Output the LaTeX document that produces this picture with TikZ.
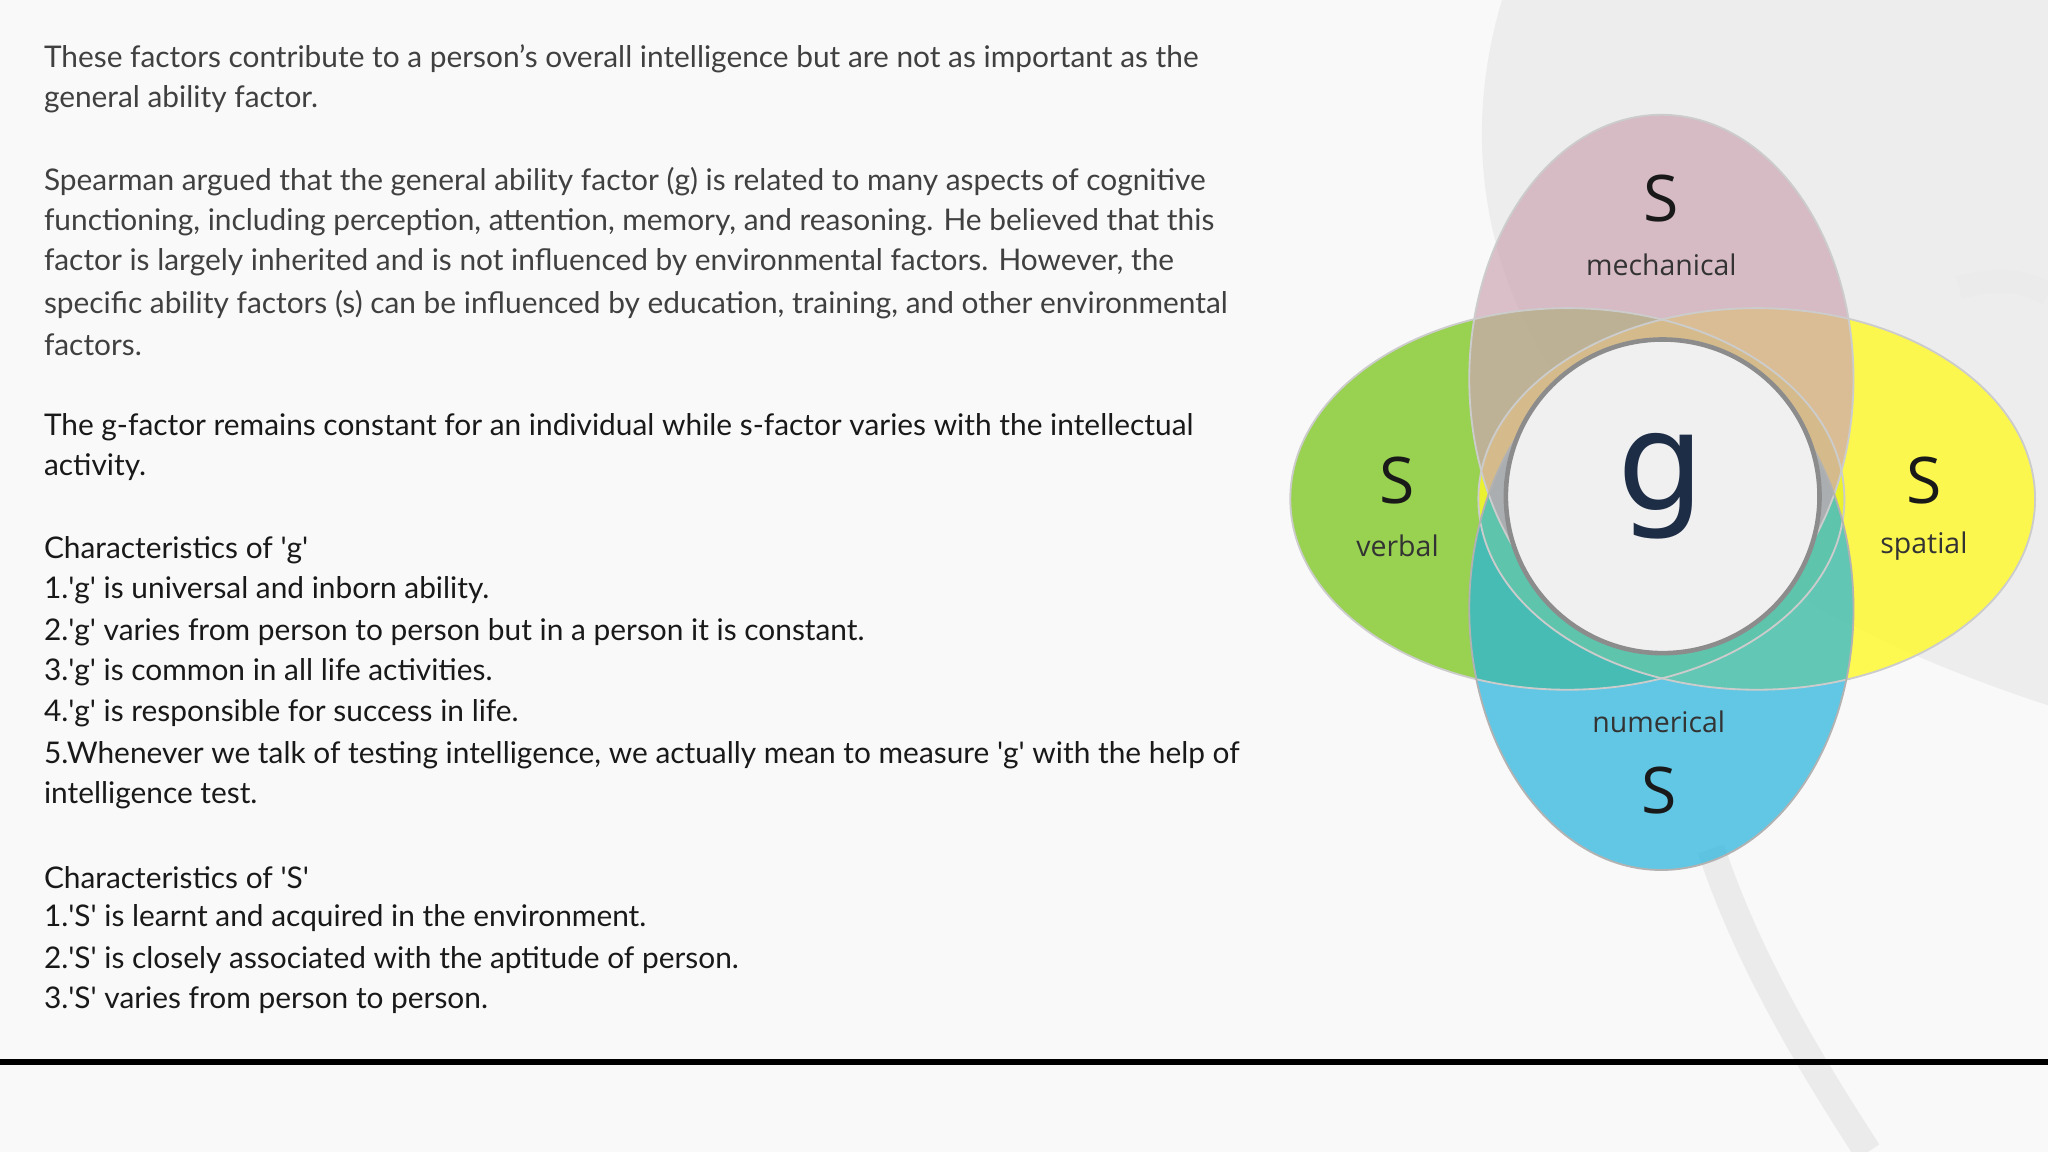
\documentclass[tikz,border=0pt]{standalone}
\usepackage{fontspec}
\setmainfont{Lato}
\newfontfamily\dfont{Open Sans}
\newfontfamily\gfont{DejaVu Sans}
\newcommand{\q}{\textquotesingle}
\begin{document}
\begin{tikzpicture}[x=0.01cm,y=-0.01cm,
  txt/.style={anchor=west,inner sep=0pt,font=\fontsize{6.5pt}{7pt}\selectfont,text=black!75},
  hd/.style={txt,text=black!90},
  ell/.style={fill opacity=0.8},
  slab/.style={font=\dfont\fontsize{14pt}{16pt}\selectfont,text=black!90},
  wlab/.style={font=\dfont\fontsize{6.2pt}{7pt}\selectfont,text=black!80}]
\useasboundingbox (0,0) rectangle (1568,882);
\fill[black!2.5] (0,0) rectangle (1568,882);
\begin{scope}
\clip (0,0) rectangle (1568,882);
\fill[black!7] (1150,0) .. controls (1090,200) and (1200,420) .. (1568,540) -- (1568,0) -- cycle;
\draw[black!8,line width=6pt] (1310,650) .. controls (1340,740) and (1390,820) .. (1430,882);
\draw[black!8,line width=5pt] (1500,220) .. controls (1530,212) and (1550,215) .. (1568,225);
\end{scope}
\draw[black,line width=1.3pt] (0,813) -- (1568,813);
% diagram
\fill[ell,fill={rgb,255:red,130;green,200;blue,40}] (1200,382) ellipse [x radius=2.12cm,y radius=1.46cm];
\fill[ell,fill={rgb,255:red,255;green,250;blue,40}] (1345,382) ellipse [x radius=2.13cm,y radius=1.46cm];
\fill[ell,fill={rgb,255:red,40;green,180;blue,220},fill opacity=0.72] (1272,466) ellipse [x radius=1.47cm,y radius=2.0cm];
\fill[ell,fill={rgb,255:red,205;green,165;blue,180},fill opacity=0.7] (1272,290) ellipse [x radius=1.47cm,y radius=2.02cm];
\draw[black!20,line width=0.4pt] (1272,290) ellipse [x radius=1.47cm,y radius=2.02cm];
\draw[black!20,line width=0.4pt] (1200,382) ellipse [x radius=2.12cm,y radius=1.46cm];
\draw[black!20,line width=0.4pt] (1345,382) ellipse [x radius=2.13cm,y radius=1.46cm];
\draw[black!30,line width=0.4pt] (1272,466) ellipse [x radius=1.47cm,y radius=2.0cm];
\node[circle,minimum size=2.4cm,inner sep=0pt,fill=black!6,draw=black!45,line width=1pt] (g) at (1273,380) {};
\node[font=\gfont\fontsize{30pt}{32pt}\selectfont,text={rgb,255:red,30;green,45;blue,70}] (gl) at (1272,372) {g};
\node[slab] (s1) at (1272,152) {S};
\node[wlab] (m) at (1272,203) {mechanical};
\node[slab] (s2) at (1070,368) {S};
\node[wlab] (v) at (1070,418) {verbal};
\node[slab] (s3) at (1473,368) {S};
\node[wlab] (sp) at (1473,418) {spatial};
\node[wlab] (n) at (1270,553) {numerical};
\node[slab] (s4) at (1270,605) {S};
% text
\node[txt] (l1) at (33,45) {These factors contribute to a person’s overall intelligence but are not as important as the};
\node[txt] (l2) at (33,76) {general ability factor.};
\node[txt] (l3) at (33,139) {Spearman argued that the general ability factor (g) is related to many aspects of cognitive};
\node[txt] (l4) at (33,170) {functioning, including perception, attention, memory, and reasoning. He believed that this};
\node[txt] (l5) at (33,201) {factor is largely inherited and is not influenced by environmental factors. However, the};
\node[txt] (l6) at (33,233) {specific ability factors (s) can be influenced by education, training, and other environmental};
\node[txt] (l7) at (33,264) {factors.};
\node[hd] (l8) at (33,327) {The g-factor remains constant for an individual while s-factor varies with the intellectual};
\node[hd] (l9) at (33,358) {activity.};
\node[hd] (l10) at (33,421) {Characteristics of \q g\q};
\node[hd] (l11) at (33,452) {1.\q g\q{} is universal and inborn ability.};
\node[hd] (l12) at (33,484) {2.\q g\q{} varies from person to person but in a person it is constant.};
\node[hd] (l13) at (33,515) {3.\q g\q{} is common in all life activities.};
\node[hd] (l14) at (33,546) {4.\q g\q{} is responsible for success in life.};
\node[hd] (l15) at (33,578) {5.Whenever we talk of testing intelligence, we actually mean to measure \q g\q{} with the help of};
\node[hd] (l16) at (33,609) {intelligence test.};
\node[hd] (l17) at (33,672) {Characteristics of \q S\q};
\node[hd] (l18) at (33,703) {1.\q S\q{} is learnt and acquired in the environment.};
\node[hd] (l19) at (33,735) {2.\q S\q{} is closely associated with the aptitude of person.};
\node[hd] (l20) at (33,766) {3.\q S\q{} varies from person to person.};
\end{tikzpicture}
\end{document}
